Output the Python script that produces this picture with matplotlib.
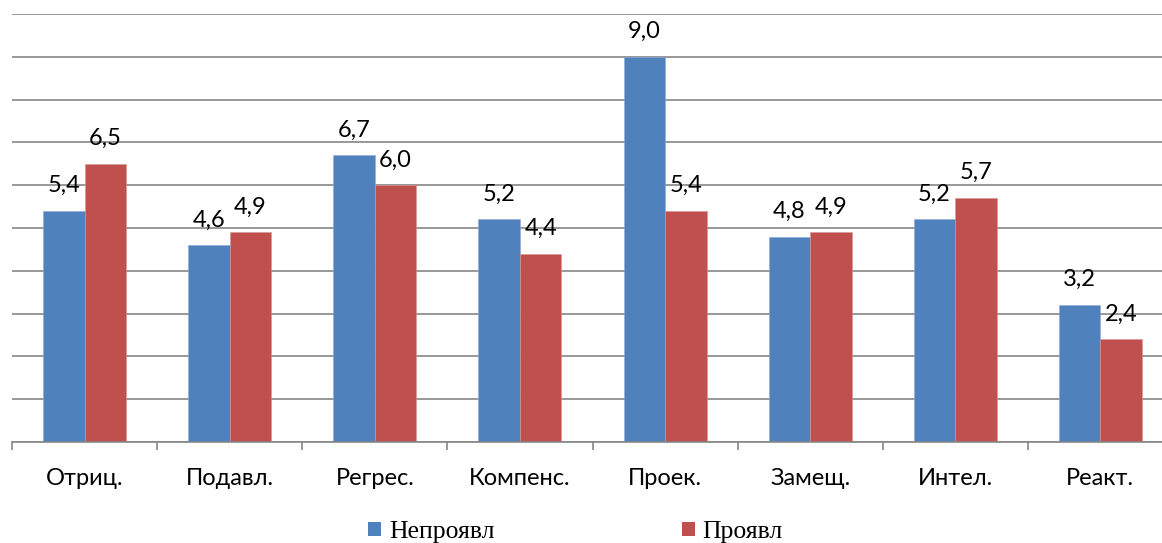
import matplotlib
matplotlib.use("Agg")
import matplotlib.pyplot as plt
from matplotlib.patches import Patch
import numpy as np

categories = ["Отриц.", "Подавл.", "Регрес.", "Компенс.", "Проек.", "Замещ.", "Интел.", "Реакт."]
not_shown = [5.4, 4.6, 6.7, 5.2, 9.0, 4.8, 5.2, 3.2]
shown = [6.5, 4.9, 6.0, 4.4, 5.4, 4.9, 5.7, 2.4]
series_names = ["Непроявл", "Проявл"]

BLUE = "#4F81BD"
RED = "#C0504D"
GRID = "#868686"
SANS = ["Lato", "DejaVu Sans"]
SERIF = ["Liberation Serif", "DejaVu Serif"]

fig = plt.figure(figsize=(11.62, 5.43), dpi=100)
ax = fig.add_axes([12 / 1162, 101 / 543, 1161 / 1162, 428 / 543])

x = np.arange(len(categories))
w = 0.286
b1 = ax.bar(x - w / 2, not_shown, w, color=BLUE, edgecolor="#8eaad6", linewidth=0.4, zorder=2)
b2 = ax.bar(x + w / 2, shown, w, color=RED, edgecolor="#d99694", linewidth=0.4, zorder=2)

def fmt(v):
    return f"{v:.1f}".replace(".", ",")

for bars, vals in ((b1, not_shown), (b2, shown)):
    for rect, v in zip(bars, vals):
        ax.annotate(fmt(v), (rect.get_x() + rect.get_width() / 2, v),
                    xytext=(0, 13.5), textcoords="offset points",
                    ha="center", va="baseline", fontsize=17, family=SANS,
                    color="black")

ax.set_xlim(-0.5, len(categories) - 0.5)
ax.set_ylim(0, 10)
ax.set_yticks(np.arange(0, 11, 1))
ax.yaxis.grid(True, color=GRID, linewidth=1.2)
ax.set_axisbelow(True)
ax.tick_params(axis="y", left=False, labelleft=False)

ax.set_xticks(x)
ax.set_xticklabels(categories, fontsize=17, family=SANS)
ax.tick_params(axis="x", which="major", length=0, pad=19)
ax.set_xticks(np.arange(-0.5, len(categories), 1), minor=True)
ax.tick_params(axis="x", which="minor", length=6, width=1.2, color=GRID)

for s in ("top", "right", "left"):
    ax.spines[s].set_visible(False)
ax.spines["bottom"].set_color(GRID)
ax.spines["bottom"].set_linewidth(1.2)

handles = [Patch(facecolor=BLUE), Patch(facecolor=RED)]
fig.legend(handles, series_names, loc="center", bbox_to_anchor=(575.5 / 1162, 1 - 532 / 543),
           ncol=2, frameon=False, handlelength=0.5, handleheight=0.5,
           handletextpad=0.3, columnspacing=7.3, borderpad=0,
           prop={"family": SERIF, "size": 18.5})

fig.savefig("out.png", dpi=100)
